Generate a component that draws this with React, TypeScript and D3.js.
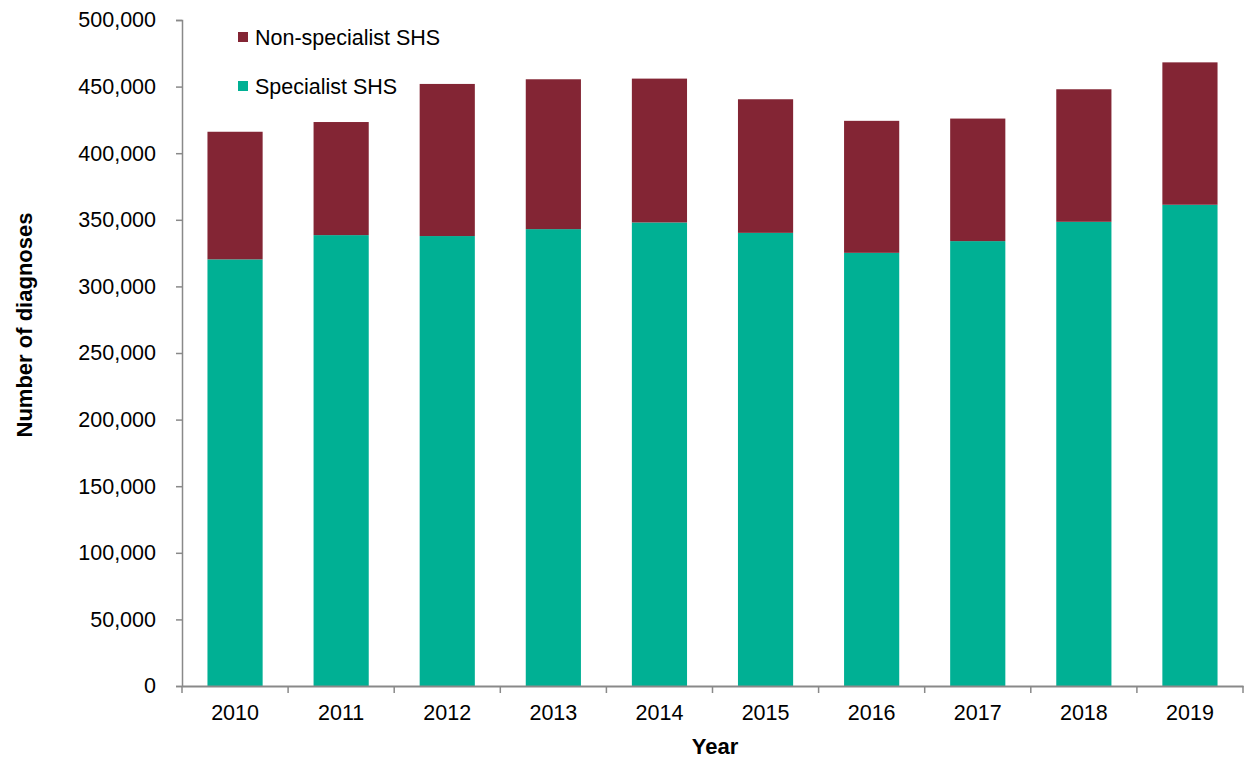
import React, { useEffect, useRef } from 'react';
import * as d3 from 'd3';

const years = ['2010', '2011', '2012', '2013', '2014', '2015', '2016', '2017', '2018', '2019'];
const specialist = [320300, 338500, 337800, 343000, 348000, 340200, 325200, 334000, 348500, 361300];
const nonSpecialist = [95800, 84900, 114200, 112500, 108000, 100300, 99100, 92000, 99500, 106900];
const yTicks = [0, 50000, 100000, 150000, 200000, 250000, 300000, 350000, 400000, 450000, 500000];

const App = () => {
  const ref = useRef<SVGSVGElement | null>(null);

  useEffect(() => {
    const width = 1248;
    const height = 758;
    const margin = { top: 20, right: 5, bottom: 72, left: 182 };
    const font = 'Liberation Sans, Arial, sans-serif';
    const fs = 21.5;
    const axisColor = '#898989';

    const svg = d3.select(ref.current);
    svg.selectAll('*').remove();

    const x = d3
      .scaleBand()
      .domain(years)
      .range([margin.left, width - margin.right])
      .paddingInner(0.48)
      .paddingOuter(0.24);

    const y = d3
      .scaleLinear()
      .domain([0, 500000])
      .range([height - margin.bottom, margin.top]);

    const rows = years.map((yr, i) => ({ year: yr, spec: specialist[i], non: nonSpecialist[i] }));
    const stack = d3.stack<any>().keys(['spec', 'non'])(rows);
    const colors = { spec: '#00B094', non: '#832534' };

    // bars
    svg
      .append('g')
      .selectAll('g')
      .data(stack)
      .enter()
      .append('g')
      .attr('fill', (d) => colors[d.key as 'spec' | 'non'])
      .selectAll('rect')
      .data((d) => d)
      .enter()
      .append('rect')
      .attr('x', (d) => x(d.data.year) as number)
      .attr('width', x.bandwidth())
      .attr('y', (d) => y(d[1]))
      .attr('height', (d) => y(d[0]) - y(d[1]));

    // y axis
    const yAxis = svg
      .append('g')
      .attr('transform', `translate(${margin.left},0)`)
      .call(
        d3
          .axisLeft(y)
          .tickValues(yTicks)
          .tickSize(6)
          .tickPadding(20)
          .tickFormat((d) => d3.format(',')(d as number))
      );
    yAxis.select('.domain').attr('stroke', axisColor).attr('stroke-width', 1.5);
    yAxis.selectAll('.tick line').attr('stroke', axisColor).attr('stroke-width', 1.5);
    yAxis
      .selectAll('.tick text')
      .attr('fill', '#000')
      .attr('font-family', font)
      .attr('font-size', fs);

    // x axis
    const xAxis = svg
      .append('g')
      .attr('transform', `translate(0,${height - margin.bottom})`)
      .call(d3.axisBottom(x).tickSize(0).tickPadding(19));
    xAxis.select('.domain').attr('stroke', axisColor).attr('stroke-width', 2);
    xAxis
      .selectAll('.tick text')
      .attr('fill', '#000')
      .attr('font-family', font)
      .attr('font-size', fs);

    // x tick marks between categories
    const step = x.step();
    const bounds = d3.range(years.length + 1).map((i) => margin.left + i * step);
    svg
      .append('g')
      .selectAll('line')
      .data(bounds)
      .enter()
      .append('line')
      .attr('x1', (d) => d)
      .attr('x2', (d) => d)
      .attr('y1', height - margin.bottom)
      .attr('y2', height - margin.bottom + 7)
      .attr('stroke', axisColor)
      .attr('stroke-width', 1.5);

    // axis titles
    svg
      .append('text')
      .attr('transform', `translate(32,325) rotate(-90)`)
      .attr('text-anchor', 'middle')
      .attr('font-family', font)
      .attr('font-size', 22)
      .attr('font-weight', 'bold')
      .text('Number of diagnoses');

    svg
      .append('text')
      .attr('x', 715)
      .attr('y', 754)
      .attr('text-anchor', 'middle')
      .attr('font-family', font)
      .attr('font-size', 22)
      .attr('font-weight', 'bold')
      .text('Year');

    // legend
    const legend = [
      { label: 'Non-specialist SHS', color: colors.non },
      { label: 'Specialist SHS', color: colors.spec },
    ];
    const lg = svg
      .append('g')
      .selectAll('g')
      .data(legend)
      .enter()
      .append('g')
      .attr('transform', (_, i) => `translate(238,${37 + i * 49})`);
    lg.append('rect').attr('x', 0).attr('y', -5).attr('width', 10).attr('height', 10).attr('fill', (d) => d.color);
    lg
      .append('text')
      .attr('x', 17)
      .attr('dy', '0.35em')
      .attr('font-family', font)
      .attr('font-size', fs)
      .text((d) => d.label);
  }, []);

  return (
    <svg
      ref={ref}
      width={1248}
      height={758}
      style={{ position: 'absolute', left: 0, top: 0, background: '#fff' }}
    />
  );
};

export default App;
